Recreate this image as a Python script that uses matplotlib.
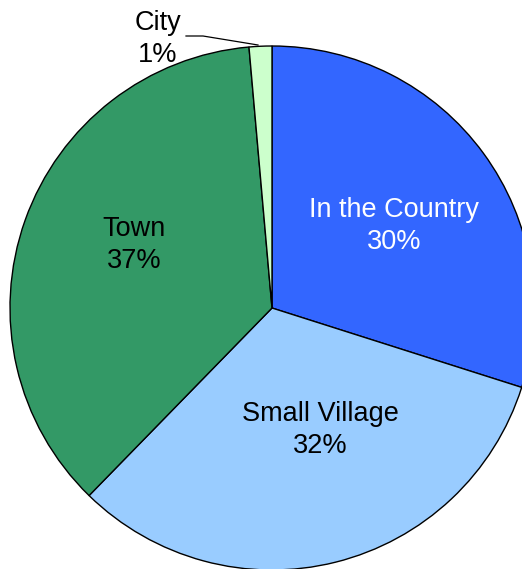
import matplotlib
matplotlib.use("Agg")
import matplotlib.pyplot as plt

categories = ["In the Country", "Small Village", "Town", "City"]
values = [29.9, 32.4, 36.3, 1.4]
pct_labels = ["30%", "32%", "37%", "1%"]
colors = ["#3366FF", "#99CCFF", "#339966", "#CCFFCC"]
text_colors = ["white", "black", "black", "black"]

W, H = 522, 569
fig = plt.figure(figsize=(W / 100, H / 100), dpi=100)
ax = fig.add_axes([0, 0, 1, 1])
cx, cy, R = 272, 308, 262

def to_data(px, py):
    return (px - cx) / R, (cy - py) / R

ax.pie(values, colors=colors, startangle=90, counterclock=False, radius=1,
       wedgeprops=dict(edgecolor="black", linewidth=1.0))
ax.set_xlim(-cx / R, (W - cx) / R)
ax.set_ylim((cy - H) / R, cy / R)
ax.set_aspect("auto")
ax.axis("off")

font = dict(family=["Liberation Sans", "DejaVu Sans"], fontsize=19.5)
label_pos = [(394, 226), (320, 430), (134, 245), (158, 39)]
for cat, pct, tc, (px, py) in zip(categories, pct_labels, text_colors, label_pos):
    x, y = to_data(px, py)
    ax.text(x, y, f"{cat}\n{pct}", ha="center", va="center", color=tc,
            linespacing=1.32, **font)

# leader line for City
pts = [to_data(186, 36), to_data(203, 36), to_data(258, 45)]
ax.plot([p[0] for p in pts], [p[1] for p in pts], color="black", lw=0.9)

fig.savefig("out.png", dpi=100)
